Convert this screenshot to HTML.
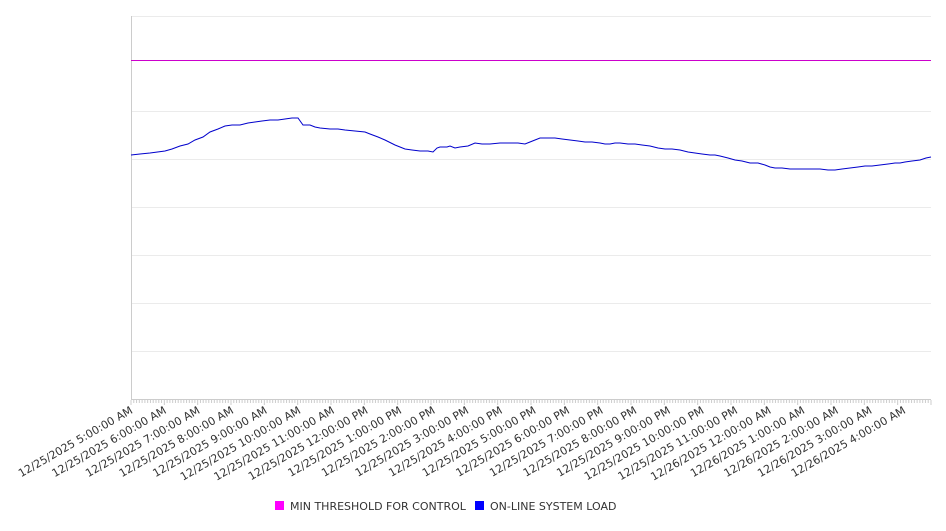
<!DOCTYPE html>
<html><head><meta charset="utf-8"><style>
html,body{margin:0;padding:0;background:#fff;}
svg text{font-family:"DejaVu Sans","Liberation Sans",sans-serif;}
</style></head><body>
<svg width="946" height="526" viewBox="0 0 946 526" xmlns="http://www.w3.org/2000/svg">
<g stroke="#ebebeb" stroke-width="1">
<line x1="131" y1="16.5" x2="931" y2="16.5"/>
<line x1="131" y1="111.5" x2="931" y2="111.5"/>
<line x1="131" y1="159.5" x2="931" y2="159.5"/>
<line x1="131" y1="207.5" x2="931" y2="207.5"/>
<line x1="131" y1="255.5" x2="931" y2="255.5"/>
<line x1="131" y1="303.5" x2="931" y2="303.5"/>
<line x1="131" y1="351.5" x2="931" y2="351.5"/>
</g>
<line x1="131.5" y1="16" x2="131.5" y2="400" stroke="#cccccc"/>
<line x1="131" y1="399.5" x2="931" y2="399.5" stroke="#cccccc"/>
<g id="ticks" stroke="#cccccc"></g>
<line x1="131" y1="60.5" x2="931" y2="60.5" stroke="#cc00cc" stroke-width="1"/>
<polyline fill="none" stroke="#0000cc" stroke-width="1" points="131,155 140,154 150,153 165,151 172,149 180,146 188,144 195,140 203,137 210,132 218,129 225,126 232,125 240,125 248,123 255,122 262,121 270,120 278,120 285,119 292,118 298,118 303,125 310,125 315,127 320,128 330,129 338,129 345,130 355,131 365,132 370,134 378,137 385,140 395,145 405,149 412,150 420,151 428,151 433,152 437,148 440,147 447,147 450,146 455,148 460,147 468,146 475,143 482,144 490,144 500,143 510,143 518,143 525,144 530,142 535,140 540,138 548,138 555,138 562,139 570,140 578,141 585,142 592,142 600,143 605,144 610,144 615,143 620,143 628,144 635,144 642,145 650,146 658,148 665,149 672,149 680,150 688,152 695,153 702,154 710,155 715,155 720,156 728,158 735,160 742,161 750,163 758,163 765,165 770,167 775,168 782,168 790,169 798,169 805,169 812,169 820,169 828,170 835,170 842,169 850,168 858,167 865,166 872,166 880,165 888,164 895,163 900,163 905,162 912,161 920,160 926,158 931,157"/>
<g id="labels" font-size="11" fill="#333"></g>
<rect x="275" y="501" width="9" height="9" fill="#ff00ff"/>
<text x="290" y="510" font-size="11" fill="#333">MIN THRESHOLD FOR CONTROL</text>
<rect x="475" y="501" width="9" height="9" fill="#0000ff"/>
<text x="490" y="510" font-size="11" fill="#333">ON-LINE SYSTEM LOAD</text>
<script>
(function(){
var ns="http://www.w3.org/2000/svg";
var t=document.getElementById("ticks");
for(var i=0;i<=288;i++){var x=131+i*800/288;var l=document.createElementNS(ns,"line");
l.setAttribute("x1",x.toFixed(2));l.setAttribute("x2",x.toFixed(2));l.setAttribute("y1","400");l.setAttribute("y2",i%12==0?"405":"403");t.appendChild(l);}
var g=document.getElementById("labels");
for(var j=0;j<24;j++){var h=(5+j)%24;var day=(5+j)>=24?26:25;var ap=h<12?"AM":"PM";var hh=h%12;if(hh==0)hh=12;
var s="12/"+day+"/2025 "+hh+":00:00 "+ap;var x=133.5+j*33.6;var tx=document.createElementNS(ns,"text");
tx.setAttribute("x",x);tx.setAttribute("y",412.5);tx.setAttribute("text-anchor","end");
tx.setAttribute("transform","rotate(-30 "+x+" 412.5)");tx.textContent=s;g.appendChild(tx);}
})();
</script>
</svg>
</body></html>
